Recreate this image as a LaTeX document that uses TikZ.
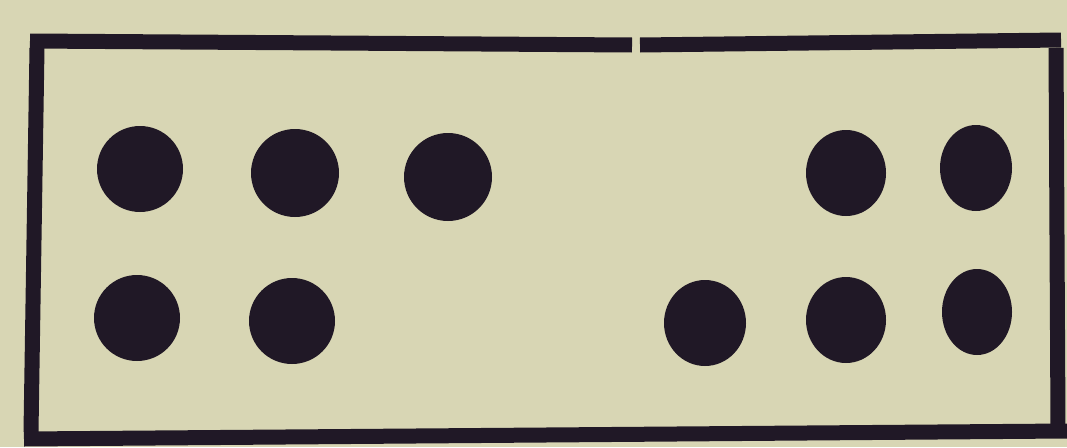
\documentclass[tikz,border=0pt]{standalone}
\definecolor{paper}{RGB}{216,214,180}
\definecolor{ink}{RGB}{32,24,38}
\tikzset{
  frameline/.style={draw=ink, line width=15pt, line cap=butt},
  dot/.style={circle, fill=ink, inner sep=0pt, minimum size=86pt},
  dotov/.style={ellipse, fill=ink, inner sep=0pt, minimum width=76pt, minimum height=86pt}
}
\usetikzlibrary{shapes.geometric}
\begin{document}
\begin{tikzpicture}[x=1pt,y=-1pt]
  \useasboundingbox (0,0) rectangle (1067,447);
  \fill[paper] (0,0) rectangle (1067,447);
  % frame
  \draw[frameline] (30,41) -- (632,45);
  \draw[frameline] (640,45) -- (1061,40);
  \draw[frameline] (37,48) -- (31,432);
  \draw[frameline] (1056,48) -- (1058,428);
  \draw[frameline] (24,439) -- (1067,431);
  % dots
  \node[dot] (a1) at (140,169) {};
  \node[dot, minimum size=88pt] (a2) at (295,173) {};
  \node[dot, minimum size=88pt] (a3) at (448,177) {};
  \node[dotov, minimum width=80pt] (a4) at (846,173) {};
  \node[dotov, minimum width=72pt] (a5) at (976,168) {};
  \node[dot] (b1) at (137,318) {};
  \node[dot] (b2) at (292,321) {};
  \node[dotov, minimum width=82pt] (b3) at (705,323) {};
  \node[dotov, minimum width=80pt] (b4) at (846,320) {};
  \node[dotov, minimum width=70pt] (b5) at (977,312) {};
\end{tikzpicture}
\end{document}
